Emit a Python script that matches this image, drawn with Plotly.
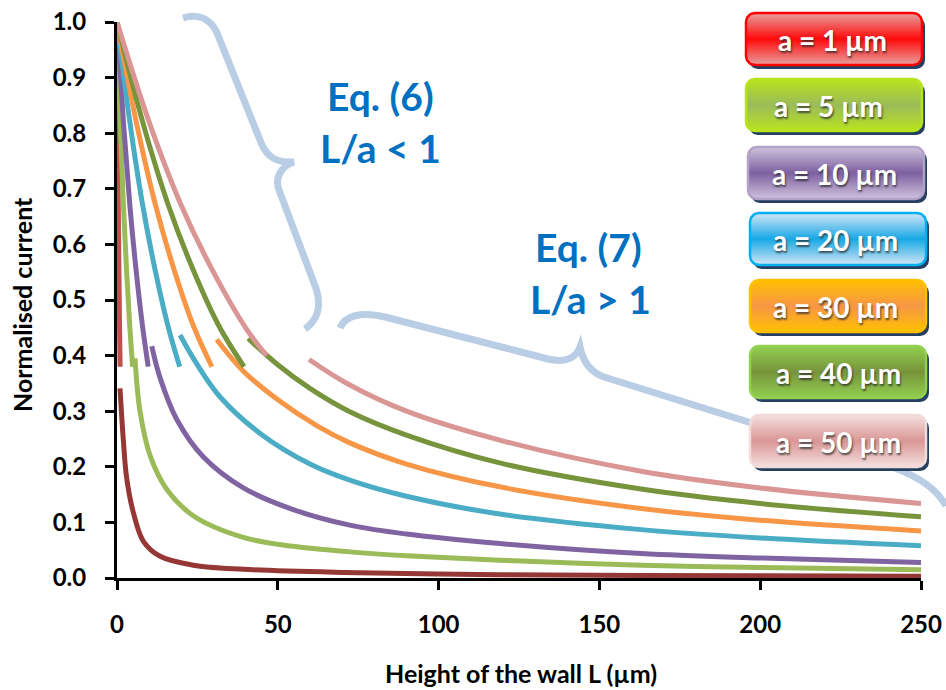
import math
import plotly.graph_objects as go

# ---------------- data ----------------
A_VALUES = [1, 5, 10, 20, 30, 40, 50]
A_LABELS = ["a = 1 µm", "a = 5 µm", "a = 10 µm", "a = 20 µm", "a = 30 µm", "a = 40 µm", "a = 50 µm"]
X_TICKS = [0, 50, 100, 150, 200, 250]
Y_TICKS = [0.0, 0.1, 0.2, 0.3, 0.4, 0.5, 0.6, 0.7, 0.8, 0.9, 1.0]

# Eq. (6) branch, L/a < 1
EQ6_L = {
    1:  [0, 0.2, 0.4, 0.6, 0.8, 0.97],
    5:  [0, 1, 2, 3, 4, 4.85],
    10: [0, 2, 4, 6, 8, 9.7],
    20: [0, 4, 8, 12, 16, 19.5],
    30: [0, 6, 12, 18, 24, 29.5],
    40: [0, 8, 16, 24, 32, 39.5],
    50: [0, 10, 20, 30, 40, 46.5],
}
EQ6_I = {
    1:  [1.0, 0.82, 0.67, 0.55, 0.45, 0.38],
    5:  [1.0, 0.82, 0.67, 0.55, 0.45, 0.38],
    10: [1.0, 0.82, 0.67, 0.55, 0.45, 0.38],
    20: [1.0, 0.82, 0.67, 0.55, 0.45, 0.38],
    30: [1.0, 0.82, 0.67, 0.55, 0.45, 0.38],
    40: [1.0, 0.82, 0.67, 0.55, 0.45, 0.38],
    50: [1.0, 0.82, 0.67, 0.55, 0.45, 0.40],
}

# Eq. (7) branch, L/a > 1
EQ7_L = {
    1:  [0.93, 1.97, 3.0, 5.07, 8.2, 13.4, 23.7, 39.3, 70.4, 119, 163, 250],
    5:  [5.6, 7.15, 10.3, 15.4, 23.7, 39.3, 54.8, 72.4, 90, 119, 163, 200, 250],
    10: [10.8, 13.4, 18.6, 26.8, 39.3, 54.8, 72.4, 90, 119, 163, 200, 250],
    20: [19.6, 24.8, 32.0, 44.5, 60.0, 72.4, 90, 119, 163, 200, 250],
    30: [31.0, 39.3, 49.7, 62.1, 72.4, 90, 119, 163, 200, 250],
    40: [40.8, 49.7, 60.0, 72.4, 90, 119, 163, 200, 250],
    50: [59.7, 72.4, 90, 119, 163, 200, 250],
}
EQ7_I = {
    1:  [0.341, 0.248, 0.180, 0.118, 0.066, 0.039, 0.023, 0.0156, 0.010, 0.006, 0.0045, 0.003],
    5:  [0.395, 0.300, 0.220, 0.160, 0.112, 0.073, 0.057, 0.047, 0.040, 0.032, 0.023, 0.019, 0.0147],
    10: [0.417, 0.360, 0.285, 0.218, 0.162, 0.123, 0.095, 0.079, 0.062, 0.044, 0.036, 0.028],
    20: [0.437, 0.385, 0.326, 0.260, 0.205, 0.176, 0.147, 0.115, 0.087, 0.072, 0.058],
    30: [0.429, 0.372, 0.322, 0.274, 0.243, 0.205, 0.164, 0.125, 0.104, 0.0845],
    40: [0.431, 0.385, 0.341, 0.299, 0.257, 0.207, 0.160, 0.134, 0.110],
    50: [0.393, 0.347, 0.300, 0.248, 0.192, 0.162, 0.134],
}

# ---------------- styles ----------------
EQ6_COLORS = {1: "#C0504D", 5: "#9BBB59", 10: "#8064A2", 20: "#4BACC6",
              30: "#F79646", 40: "#77933C", 50: "#D99694"}
EQ7_COLORS = {1: "#953735", 5: "#9BBB59", 10: "#8064A2", 20: "#4BACC6",
              30: "#F79646", 40: "#77933C", 50: "#D99694"}

# legend "buttons": (edge colour, middle colour, border colour)
BTN_STYLE = [
    ("#E6A09E", "#FF0A0A", "#FF0000"),
    ("#B8E41E", "#9BBB59", "#B8E41E"),
    ("#CFC3DD", "#7D60A0", "#B3A2C7"),
    ("#D4E6F6", "#17A8E6", "#00B0F0"),
    ("#FFC000", "#F79646", "#FFC000"),
    ("#92D050", "#77933C", "#92D050"),
    ("#F4E0DF", "#D99694", "#F2DCDB"),
]
BTN_TOPS = [13, 79, 147, 213, 280, 346, 415]
BTN_LEFT = [746, 746, 748, 750, 750, 750, 750]
BTN_TEXT_X = [832, 828, 834, 835, 835, 838, 838]
BTN_W, BTN_H, BTN_R = 176, 52, 9

W, H = 946, 690
PX_L, PX_R, PX_T, PX_B = 117, 921, 22, 578     # plot area in pixels
FONT = "Lato"
BRACE_COLOR = "#B9CDE5"
TEXT_BLUE = "#0070C0"

fig = go.Figure()

for a in A_VALUES:
    fig.add_trace(go.Scatter(
        x=EQ6_L[a], y=EQ6_I[a], mode="lines", line_shape="spline",
        line=dict(color=EQ6_COLORS[a], width=5), showlegend=False, hoverinfo="skip"))
    fig.add_trace(go.Scatter(
        x=EQ7_L[a], y=EQ7_I[a], mode="lines", line_shape="spline",
        line=dict(color=EQ7_COLORS[a], width=5), showlegend=False, hoverinfo="skip"))


def rrect(x0, y0, w, h, r, n=8):
    pts = []
    corners = [(x0 + w - r, y0 + r, -90, 0), (x0 + w - r, y0 + h - r, 0, 90),
               (x0 + r, y0 + h - r, 90, 180), (x0 + r, y0 + r, 180, 270)]
    for cx, cy, a0, a1 in corners:
        for i in range(n + 1):
            t = math.radians(a0 + (a1 - a0) * i / n)
            pts.append((cx + r * math.cos(t), cy + r * math.sin(t)))
    pts.append(pts[0])
    return [p[0] for p in pts], [p[1] for p in pts]


annotations = []
for i, lab in enumerate(A_LABELS):
    x0, y0 = BTN_LEFT[i], BTN_TOPS[i]
    sx, sy = rrect(x0 + 3, y0 + 4, BTN_W, BTN_H, BTN_R)
    fig.add_trace(go.Scatter(x=sx, y=sy, xaxis="x2", yaxis="y2", mode="lines",
                             fill="toself", fillcolor="#243F60",
                             line=dict(width=0, color="#243F60"),
                             showlegend=False, hoverinfo="skip"))
    edge, mid, border = BTN_STYLE[i]
    bx, by = rrect(x0, y0, BTN_W, BTN_H, BTN_R)
    fig.add_trace(go.Scatter(x=bx, y=by, xaxis="x2", yaxis="y2", mode="lines",
                             fill="toself",
                             fillgradient=dict(type="vertical",
                                               colorscale=[[0, edge], [0.5, mid], [1, edge]]),
                             line=dict(width=2.5, color=border),
                             showlegend=False, hoverinfo="skip"))
    annotations.append(dict(x=BTN_TEXT_X[i], y=y0 + BTN_H / 2 + 1, xref="x2", yref="y2",
                            text=lab, showarrow=False,
                            font=dict(family=FONT, size=28, color="white", weight="bold",
                                      shadow="1px 2px 2px rgba(40,40,40,0.75)")))

# braces (pixel coordinates on the overlay axes)
brace1 = ("M183,18 C200,13 211,20 217,33 L262,145 C268,158 278,163 294,162 "
          "C282,166 274,177 279,190 L314,283 C322,303 320,318 305,329")
brace2 = ("M340,328 C345,316 360,311 385,317 L548,359 C565,363 576,358 580,347 "
          "C583,362 590,372 604,377 L880,463 C910,472 935,485 946,506")
shapes = [dict(type="path", path=p, xref="x2", yref="y2", layer="below",
               line=dict(color=BRACE_COLOR, width=7)) for p in (brace1, brace2)]

eq_font = dict(family=FONT, size=39, color=TEXT_BLUE, weight="bold")
annotations += [
    dict(x=380, y=96, xref="x2", yref="y2", text="Eq. (6)", showarrow=False, font=eq_font),
    dict(x=380, y=148, xref="x2", yref="y2", text="L/a &lt; 1", showarrow=False, font=eq_font),
    dict(x=588, y=247, xref="x2", yref="y2", text="Eq. (7)", showarrow=False, font=eq_font),
    dict(x=590, y=299, xref="x2", yref="y2", text="L/a &gt; 1", showarrow=False, font=eq_font),
    dict(x=521, y=673, xref="x2", yref="y2", text="Height of the wall L (µm)",
         showarrow=False, font=dict(family=FONT, size=25, color="black", weight="bold")),
    dict(x=22, y=305, xref="x2", yref="y2", text="Normalised current", textangle=-90,
         showarrow=False, font=dict(family=FONT, size=25, color="black", weight="bold")),
]

axis_common = dict(showgrid=False, zeroline=False, showline=True, linecolor="black",
                   linewidth=3, ticks="outside", ticklen=9, tickwidth=3, tickcolor="black",
                   tickfont=dict(family=FONT, size=24, color="black", weight="bold"),
                   ticklabeloverflow="allow", automargin=False, fixedrange=True)

fig.update_layout(
    width=W, height=H, margin=dict(l=0, r=0, t=0, b=0),
    paper_bgcolor="white", plot_bgcolor="rgba(0,0,0,0)",
    xaxis=dict(domain=[PX_L / W, PX_R / W], range=[0, 250], tickvals=X_TICKS,
               anchor="y", ticklabelstandoff=14, **axis_common),
    yaxis=dict(domain=[1 - PX_B / H, 1 - PX_T / H], range=[0, 1.0],
               tickvals=Y_TICKS, tickformat=".1f", anchor="x", ticklabelstandoff=14,
               **axis_common),
    xaxis2=dict(domain=[0, 1], range=[0, W], anchor="y2", visible=False, fixedrange=True),
    yaxis2=dict(domain=[0, 1], range=[H, 0], anchor="x2", visible=False, fixedrange=True),
    shapes=shapes, annotations=annotations, showlegend=False, hovermode=False,
)

fig.write_html("out.html", config={"displayModeBar": False},
               post_script="document.body.style.margin='0px';"
                           "document.body.style.overflow='hidden';")
